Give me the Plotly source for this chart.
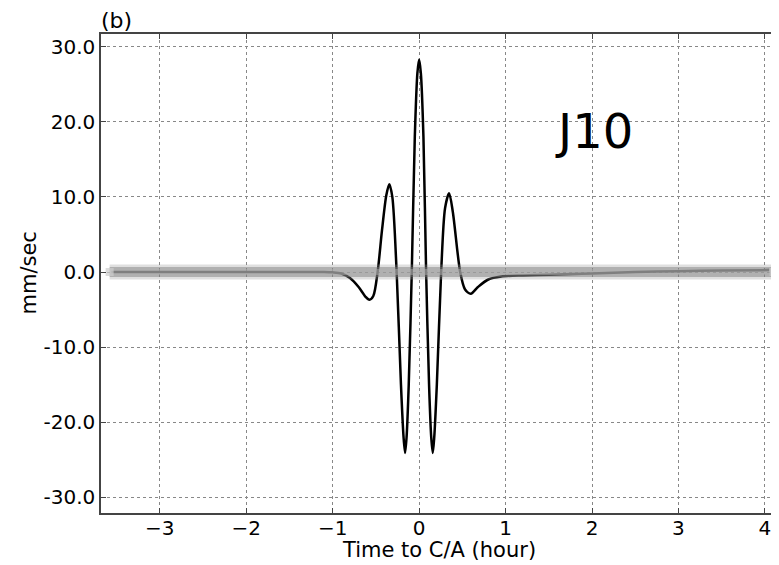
import plotly.graph_objects as go

# Data
t_hours = [-3.56, -2.0, -1.1, -1.0, -0.9, -0.8, -0.7, -0.62, -0.575, -0.53, -0.48,
           -0.43, -0.38, -0.345, -0.31, -0.26, -0.21, -0.18, -0.162, -0.145, -0.12,
           -0.085, -0.05, -0.02, 0.0, 0.02, 0.05, 0.081, 0.115, 0.14, 0.158, 0.175,
           0.205, 0.255, 0.30, 0.347, 0.39, 0.475, 0.53, 0.598, 0.68, 0.8, 0.95,
           1.2, 1.5, 2.0, 2.5, 3.0, 3.5, 4.05]
velocity = [0.0, 0.0, 0.0, -0.05, -0.2, -0.8, -2.0, -3.3, -3.7, -3.2, 0.0,
            5.5, 10.2, 11.7, 10.0, 0.0, -15.0, -22.0, -24.1, -22.0, -15.0,
            0.0, 18.0, 26.5, 28.3, 26.5, 18.0, 0.0, -15.0, -22.0, -24.1, -22.0,
            -15.0, 0.0, 8.5, 10.5, 8.0, 0.0, -2.3, -2.9, -2.0, -1.0, -0.6,
            -0.45, -0.35, -0.2, 0.0, 0.1, 0.2, 0.25]

band_t = [-3.58, 4.1]
band_v = [0.0, 0.0]

x_ticks = [-3, -2, -1, 0, 1, 2, 3, 4]
x_labels = ["\u22123", "\u22122", "\u22121", "0", "1", "2", "3", "4"]
y_ticks = [30, 20, 10, 0, -10, -20, -30]
y_labels = ["30.0", "20.0", "10.0", "0.0", "-10.0", "-20.0", "-30.0"]

FONT = "DejaVu Sans"

fig = go.Figure()
fig.add_trace(go.Scatter(x=t_hours, y=velocity, mode="lines",
                         line=dict(color="black", width=2.5, shape="spline", smoothing=0.8),
                         showlegend=False, hoverinfo="skip"))
fig.add_trace(go.Scatter(x=band_t, y=band_v, mode="lines",
                         line=dict(color="rgba(150,150,150,0.3)", width=15),
                         showlegend=False, hoverinfo="skip"))
fig.add_trace(go.Scatter(x=band_t, y=band_v, mode="lines",
                         line=dict(color="rgba(120,120,120,0.45)", width=10),
                         showlegend=False, hoverinfo="skip"))
fig.add_trace(go.Scatter(x=band_t, y=band_v, mode="lines+markers",
                         line=dict(color="rgba(175,175,175,0.5)", width=6),
                         marker=dict(symbol="square", size=8, color="rgba(205,205,205,0.7)"),
                         showlegend=False, hoverinfo="skip"))

fig.add_annotation(x=2.02, y=18.8, xref="x", yref="y", text="J10", showarrow=False,
                   font=dict(family=FONT, size=48, color="black"))
fig.add_annotation(x=0.0, y=1.0, xref="paper", yref="paper", text="(b)", showarrow=False,
                   xanchor="left", yanchor="bottom", xshift=-2, yshift=-1,
                   font=dict(family=FONT, size=22, color="black"))
fig.add_annotation(x=0.5, y=0.0, xref="paper", yref="paper", text="Time to C/A (hour)",
                   showarrow=False, xanchor="center", yanchor="middle", yshift=-37,
                   font=dict(family=FONT, size=21, color="black"))
fig.add_annotation(x=0.0, y=0.5, xref="paper", yref="paper", text="mm/sec",
                   showarrow=False, xanchor="center", yanchor="middle", xshift=-73,
                   textangle=-90, font=dict(family=FONT, size=21, color="black"))

axis_common = dict(showline=True, linecolor="#444", linewidth=1.5, mirror="ticks",
                   ticks="inside", ticklen=5, tickcolor="#444", automargin=False,
                   showgrid=True, gridcolor="#888", griddash="dot", gridwidth=1,
                   zeroline=False, tickfont=dict(family=FONT, size=20, color="black"))

fig.update_xaxes(range=[-3.68, 4.14], tickvals=x_ticks, ticktext=x_labels,
                 ticklabelstandoff=-4, **axis_common)
fig.update_yaxes(range=[-32.1, 31.7], tickvals=y_ticks, ticktext=y_labels, **axis_common)

# The page adds an 8px body margin, so the figure is drawn 8px smaller and the margins shifted.
fig.update_layout(width=771, height=557, margin=dict(l=93, r=2, t=26, b=52),
                  plot_bgcolor="white", paper_bgcolor="white",
                  font=dict(family=FONT, color="black"))

fig.write_html("out.html")
